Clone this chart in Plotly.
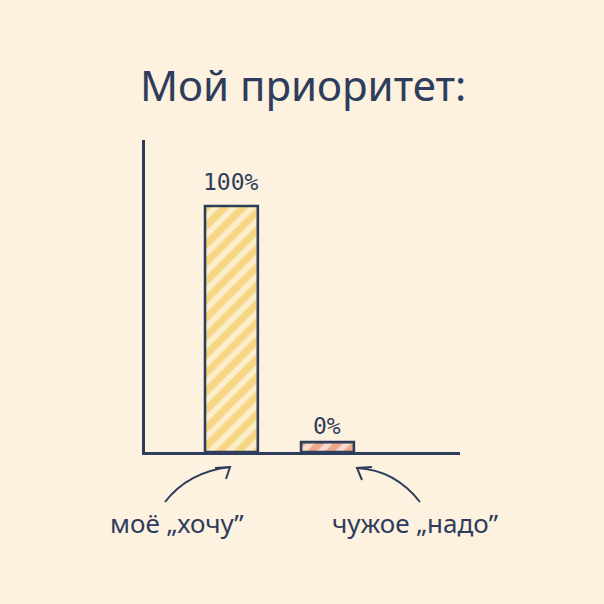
import plotly.graph_objects as go

categories = ['моё „хочу”', 'чужое „надо”']
values = [100, 0]
value_labels = ['100%', '0%']
title_text = 'Мой приоритет:'

NAVY = '#2E3D5B'
BG = '#FDF1DF'
MIN_VISIBLE = 4  # minimal drawn height so a 0% bar is still visible
fills = [('#F7D684', '#FCEDCB'), ('#F0A88C', '#F9DCCB')]
label_shifts = [9, 1]

heights = [max(v, MIN_VISIBLE) for v in values]

fig = go.Figure()
for c, h, (fg, bg) in zip(categories, heights, fills):
    fig.add_trace(go.Bar(
        x=[c], y=[h], width=0.55,
        marker=dict(
            color=bg,
            line=dict(color=NAVY, width=2.6),
            pattern=dict(shape='/', fgcolor=fg, bgcolor=bg, fillmode='replace',
                         size=13, solidity=0.55),
        ),
        hoverinfo='skip',
    ))

# value labels above bars
for c, h, t, ys in zip(categories, heights, value_labels, label_shifts):
    fig.add_annotation(x=c, y=h, text=t, showarrow=False, yanchor='bottom', yshift=ys,
                       font=dict(family='DejaVu Sans Mono', size=23, color=NAVY))

# category labels below axis
shifts = [-54, 88]
for c, s in zip(categories, shifts):
    fig.add_annotation(x=c, y=0, text=c, showarrow=False, yanchor='middle', yshift=-71, xshift=s,
                       font=dict(family='Noto Sans', size=26, color=NAVY))

fig.add_annotation(xref='paper', yref='paper', x=0.5, y=(452 - 84) / 312, text=title_text,
                   showarrow=False, yanchor='middle', xanchor='center',
                   font=dict(family='Noto Sans', size=42, color=NAVY))

def P(px, py):
    return (px - 145) / 315, (452 - py) / 312

def path(points, curve=None):
    (x0, y0) = P(*points[0])
    if curve:
        (cx, cy) = P(*curve)
        (x1, y1) = P(*points[1])
        return f'M {x0},{y0} Q {cx},{cy} {x1},{y1}'
    s = f'M {x0},{y0}'
    for p in points[1:]:
        x, y = P(*p)
        s += f' L {x},{y}'
    return s

arrows = [
    path([(165, 502), (230, 467)], curve=(188, 472)),
    path([(215, 468), (230, 467), (226, 479)]),
    path([(420, 502), (357, 468)], curve=(395, 470)),
    path([(372, 467), (357, 468), (362, 480)]),
]
for d in arrows:
    fig.add_shape(type='path', xref='paper', yref='paper', path=d,
                  line=dict(color=NAVY, width=2))

fig.update_layout(
    width=604, height=604,
    paper_bgcolor=BG, plot_bgcolor=BG,
    margin=dict(l=145, r=144, t=140, b=152),
    showlegend=False,
    barmode='overlay',
    xaxis=dict(range=[-0.90, 2.38], showline=True, linecolor=NAVY, linewidth=2.6,
               showticklabels=False, ticks='', showgrid=False, zeroline=False, fixedrange=True),
    yaxis=dict(range=[0, 126.8], showline=True, linecolor=NAVY, linewidth=2.6,
               showticklabels=False, ticks='', showgrid=False, zeroline=False, fixedrange=True),
)

fig.write_html('out.html', config={'displayModeBar': False},
               post_script="document.body.style.margin='0';document.body.style.background='" + BG + "';")
